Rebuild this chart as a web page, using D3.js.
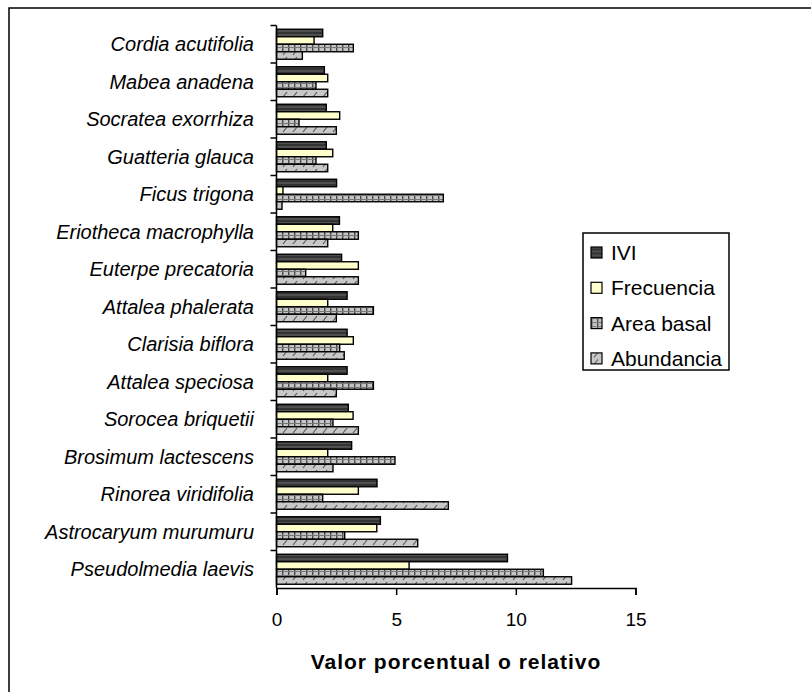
<!DOCTYPE html>
<html>
<head>
<meta charset="utf-8">
<script src="https://cdn.jsdelivr.net/npm/d3@7"></script>
<style>
  body { margin: 0; background: #fff; }
  text { font-family: "Liberation Sans", Arial, sans-serif; }
</style>
</head>
<body>
<svg id="chart"></svg>
<script>
// species from top to bottom as drawn
const species = [
  'Cordia acutifolia', 'Mabea anadena', 'Socratea exorrhiza', 'Guatteria glauca',
  'Ficus trigona', 'Eriotheca macrophylla', 'Euterpe precatoria', 'Attalea phalerata',
  'Clarisia biflora', 'Attalea speciosa', 'Sorocea briquetii', 'Brosimum lactescens',
  'Rinorea viridifolia', 'Astrocaryum murumuru', 'Pseudolmedia laevis'
];
const seriesNames = ['IVI', 'Frecuencia', 'Area basal', 'Abundancia'];

const ivi        = [1.93, 2.0, 2.08, 2.08, 2.51, 2.63, 2.72, 2.95, 2.95, 2.95, 3.0, 3.14, 4.2, 4.34, 9.65];
const frecuencia = [1.57, 2.14, 2.64, 2.35, 0.27, 2.35, 3.42, 2.14, 3.21, 2.14, 3.2, 2.14, 3.42, 4.19, 5.54];
const areaBasal  = [3.21, 1.65, 0.94, 1.65, 6.97, 3.42, 1.22, 4.05, 2.64, 4.05, 2.36, 4.95, 1.93, 2.85, 11.15];
const abundancia = [1.08, 2.14, 2.5, 2.14, 0.23, 2.14, 3.42, 2.5, 2.83, 2.5, 3.42, 2.36, 7.18, 5.9, 12.33];

const xTicks = [0, 5, 10, 15];

const seriesValues = [ivi, frecuencia, areaBasal, abundancia];

const W = 811, H = 692;
const plot = {left: 276.5, right: 635.5, top: 25.5, bottom: 588};

const svg = d3.select('#chart').attr('width', W).attr('height', H);

// fill patterns (approximating the old spreadsheet hatches)
const defs = svg.append('defs');
const pIvi = defs.append('pattern').attr('id', 'p-ivi')
  .attr('patternUnits', 'userSpaceOnUse').attr('width', 8).attr('height', 4);
pIvi.append('rect').attr('width', 8).attr('height', 4).attr('fill', '#333');
pIvi.append('rect').attr('y', 2.5).attr('width', 8).attr('height', 1).attr('fill', '#6a6a6a');

const pArea = defs.append('pattern').attr('id', 'p-area')
  .attr('patternUnits', 'userSpaceOnUse').attr('width', 6).attr('height', 4);
pArea.append('rect').attr('width', 6).attr('height', 4).attr('fill', '#c4c4c4');
pArea.append('rect').attr('width', 1.4).attr('height', 4).attr('fill', '#4a4a4a');
pArea.append('rect').attr('y', 3).attr('width', 6).attr('height', 1).attr('fill', '#777');

const pAbund = defs.append('pattern').attr('id', 'p-abund')
  .attr('patternUnits', 'userSpaceOnUse').attr('width', 10).attr('height', 7);
pAbund.append('rect').attr('width', 10).attr('height', 7).attr('fill', '#c8c8c8');
pAbund.append('line').attr('x1', 3).attr('y1', 6).attr('x2', 7).attr('y2', 1)
  .attr('stroke', '#555').attr('stroke-width', 1.2);

const fills = ['url(#p-ivi)', '#ffffcc', 'url(#p-area)', 'url(#p-abund)'];

// outer frame
svg.append('rect')
  .attr('x', 9).attr('y', 8).attr('width', 900).attr('height', 900)
  .attr('fill', 'none').attr('stroke', '#000').attr('stroke-width', 1.5);

// scales
const xScale = d3.scaleLinear([0, 15], [plot.left, plot.right]);
const yScale = d3.scaleBand(species, [plot.top, plot.bottom]).padding(0);
const ySub = d3.scaleBand(seriesNames, [0, yScale.bandwidth()])
  .paddingInner(0).paddingOuter(0.5);

// bars
const rows = [];
species.forEach((s, i) => {
  seriesNames.forEach((n, j) => rows.push({species: s, series: n, idx: j, value: seriesValues[j][i]}));
});

svg.append('g').selectAll('rect')
  .data(rows)
  .join('rect')
    .attr('x', xScale(0))
    .attr('y', d => yScale(d.species) + ySub(d.series))
    .attr('width', d => xScale(d.value) - xScale(0))
    .attr('height', ySub.bandwidth())
    .attr('fill', d => fills[d.idx])
    .attr('stroke', '#000')
    .attr('stroke-width', 1.4);

// y axis with ticks at category boundaries
const yAxisG = svg.append('g').attr('stroke', '#000').attr('stroke-width', 1.5);
yAxisG.append('line')
  .attr('x1', plot.left).attr('x2', plot.left)
  .attr('y1', plot.top).attr('y2', plot.bottom);
yAxisG.selectAll('line.tick')
  .data(species)
  .join('line')
    .attr('class', 'tick')
    .attr('x1', plot.left - 6).attr('x2', plot.left)
    .attr('y1', d => yScale(d)).attr('y2', d => yScale(d));

svg.append('g').selectAll('text')
  .data(species)
  .join('text')
    .attr('x', 254)
    .attr('y', d => yScale(d) + yScale.bandwidth() / 2)
    .attr('dy', '0.35em')
    .attr('text-anchor', 'end')
    .style('font-style', 'italic')
    .style('font-size', '20px')
    .text(d => d);

// x axis
const xAxis = d3.axisBottom(xScale).tickValues(xTicks).tickSize(7).tickPadding(18);
const xAxisG = svg.append('g')
  .attr('transform', `translate(0,${plot.bottom})`)
  .call(xAxis);
xAxisG.select('.domain').attr('stroke-width', 1.5);
xAxisG.selectAll('.tick line').attr('stroke-width', 1.5);
xAxisG.selectAll('.tick text')
  .style('font-family', '"Liberation Sans", Arial, sans-serif')
  .style('font-size', '19px')
  .attr('fill', '#000');

svg.append('text')
  .attr('x', 456).attr('y', 669)
  .attr('text-anchor', 'middle')
  .style('font-weight', 'bold')
  .style('font-size', '21px')
  .style('letter-spacing', '1px')
  .text('Valor porcentual o relativo');

// legend
const legend = svg.append('g');
legend.append('rect')
  .attr('x', 583).attr('y', 233).attr('width', 146).attr('height', 137)
  .attr('fill', '#fff').attr('stroke', '#000').attr('stroke-width', 1.5);
const legendY = [252.5, 287.8, 323.1, 358.4];
const items = legend.selectAll('g.item')
  .data(seriesNames)
  .join('g')
    .attr('class', 'item')
    .attr('transform', (d, i) => `translate(591,${legendY[i]})`);
items.append('rect')
  .attr('x', 0).attr('y', -5.5).attr('width', 11).attr('height', 11)
  .attr('fill', (d, i) => fills[i])
  .attr('stroke', '#000').attr('stroke-width', 1.2);
items.append('text')
  .attr('x', 20).attr('dy', '0.36em')
  .style('font-size', '21px')
  .text(d => d);
</script>
</body>
</html>
